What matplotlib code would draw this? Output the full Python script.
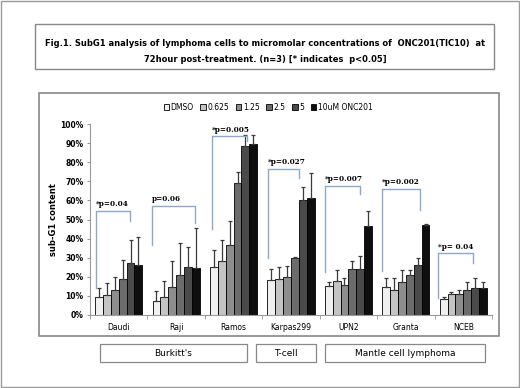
import matplotlib
matplotlib.use("Agg")
import matplotlib.pyplot as plt
import numpy as np
from matplotlib.patches import Rectangle

cell_lines = ["Daudi", "Raji", "Ramos", "Karpas299", "UPN2", "Granta", "NCEB"]
series_names = ["DMSO", "0.625", "1.25", "2.5", "5", "10uM ONC201"]
colors = ["#f0f0f0", "#c4c4c4", "#8e8e8e", "#6c6c6c", "#4a4a4a", "#0e0e0e"]

# values in percent, per series across cell lines
dmso   = [9.3, 7.5, 25.0, 18.2, 15.0, 14.5, 8.6]
c0625  = [10.5, 9.4, 28.3, 18.9, 17.8, 12.9, 10.8]
c125   = [13.1, 14.5, 36.4, 19.9, 15.7, 17.1, 10.8]
c25    = [18.9, 20.8, 68.9, 29.9, 24.0, 21.0, 12.9]
c5     = [27.3, 25.3, 88.6, 60.1, 24.3, 26.2, 14.3]
c10    = [26.0, 24.6, 89.5, 61.5, 46.7, 47.0, 14.3]
values = [dmso, c0625, c125, c25, c5, c10]

err_dmso  = [5.0, 5.3, 9.0, 5.9, 2.1, 4.7, 0.7]
err_0625  = [6.1, 8.6, 11.2, 6.1, 5.5, 6.3, 1.4]
err_125   = [7.0, 13.8, 12.6, 5.6, 3.7, 6.7, 2.5]
err_25    = [9.7, 17.1, 5.9, 0.3, 4.3, 2.4, 4.4]
err_5     = [12.0, 10.4, 5.4, 6.7, 6.8, 3.5, 4.9]
err_10    = [14.7, 21.2, 4.5, 12.8, 8.0, 0.4, 2.8]
errors = [err_dmso, err_0625, err_125, err_25, err_5, err_10]

# significance brackets
p_labels  = ["*p=0.04", "p=0.06", "*p=0.005", "*p=0.027", "*p=0.007", "*p=0.002", "*p= 0.04"]
br_top    = [54.7, 57.2, 93.5, 76.6, 67.8, 66.0, 32.2]
br_left   = [14.0, 36.7, 45.0, 29.7, 22.7, 23.0, 9.1]
br_right  = [49.0, 48.0, 91.0, 71.7, 63.3, 55.0, 27.0]
br_x0     = [-0.40, -0.42, -0.37, -0.40, -0.41, -0.41, -0.44]
br_x1     = [0.20, 0.33, 0.235, 0.14, 0.20, 0.25, 0.17]

yticks = [0, 10, 20, 30, 40, 50, 60, 70, 80, 90, 100]
groups = ["Burkitt's", "T-cell", "Mantle cell lymphoma"]
title_lines = ["Fig.1. SubG1 analysis of lymphoma cells to micromolar concentrations of  ONC201(TIC10)  at",
               "72hour post-treatment. (n=3) [* indicates  p<0.05]"]

W, H = 520, 388
fig = plt.figure(figsize=(W / 100, H / 100), dpi=100)
fig.patch.set_facecolor("white")

def fx(x):
    return x / W

def fy(y):
    return 1 - y / H

def box(x0, y0, x1, y1, ec="#888888", lw=1.0):
    fig.patches.append(Rectangle((fx(x0), fy(y1)), fx(x1) - fx(x0), fy(y0) - fy(y1),
                                 transform=fig.transFigure, fill=False, ec=ec, lw=lw))

# outer border
box(1, 1, 519, 387, ec="#9a9a9a", lw=1.0)
# title box
box(35, 24, 494, 69, ec="#888888", lw=1.0)
t1 = fig.text(fx(265), fy(43), title_lines[0], ha="center", va="center", fontsize=7.2,
              fontweight="bold", family="DejaVu Sans")
t2 = fig.text(fx(265), fy(60), title_lines[1], ha="center", va="center", fontsize=7.2,
              fontweight="bold", family="DejaVu Sans")
renderer = fig.canvas.get_renderer()
w1 = t1.get_window_extent(renderer).width
fs = 7.2 * 443.0 / w1
t1.set_fontsize(fs)
t2.set_fontsize(fs)

# chart box
box(39, 93, 499, 336, ec="#888888", lw=1.2)

ax = fig.add_axes([fx(90), fy(315), fx(492) - fx(90), fy(124) - fy(315)])
n = len(cell_lines)
x = np.arange(n)
bw = 0.137
for i, (vals, errs, c, name) in enumerate(zip(values, errors, colors, series_names)):
    pos = x + (i - 2.5) * bw
    ax.bar(pos, vals, width=bw, color=c, edgecolor="black", linewidth=0.6, label=name, zorder=2)
    ax.errorbar(pos, vals, yerr=[np.zeros(n), errs], fmt="none", ecolor="#3a3a3a",
                elinewidth=0.9, capsize=1.5, capthick=0.9, zorder=3)

bracket_color = "#8fa8c8"
for i in range(n):
    xa = i + br_x0[i]
    xb = i + br_x1[i]
    ax.plot([xa, xa, xb, xb], [br_left[i], br_top[i], br_top[i], br_right[i]],
            color=bracket_color, lw=1.0, zorder=4, clip_on=False)
    ax.text(xa, br_top[i] + 1.5, p_labels[i], ha="left", va="bottom", fontsize=5.2,
            fontweight="bold", family="DejaVu Serif", zorder=5, clip_on=False)

ax.set_xlim(-0.5, n - 0.5)
ax.set_ylim(0, 100)
ax.set_yticks(yticks)
ax.set_yticklabels([f"{t}%" for t in yticks], fontsize=5.5, fontweight="bold")
ax.set_xticks(x)
ax.set_xticklabels(cell_lines, fontsize=5.5)
ax.set_xticks(np.arange(-0.5, n, 1.0), minor=True)
ax.tick_params(axis="x", which="major", length=0, pad=6)
ax.tick_params(axis="x", which="minor", length=3, color="#999999")
ax.tick_params(axis="y", length=2.5, color="#999999", pad=2)
for s in ["top", "right"]:
    ax.spines[s].set_visible(False)
for s in ["left", "bottom"]:
    ax.spines[s].set_color("#999999")
    ax.spines[s].set_linewidth(0.8)
ax.set_ylabel("sub-G1 content", fontsize=6, fontweight="bold", labelpad=2)
ax.patch.set_alpha(0)

leg = fig.legend(*ax.get_legend_handles_labels(), loc="center", bbox_to_anchor=(fx(268), fy(107)),
                 ncol=6, fontsize=5.5, frameon=False, handlelength=0.7, handleheight=0.7,
                 handletextpad=0.2, columnspacing=0.9, borderaxespad=0)

# group boxes
group_boxes = [(100, 247), (256, 316), (325, 485)]
for (a, b), g in zip(group_boxes, groups):
    box(a, 344, b, 362, ec="#888888", lw=0.9)
    fig.text(fx((a + b) / 2), fy(353), g, ha="center", va="center", fontsize=6.5)

fig.savefig("out.png", dpi=100, facecolor="white")
